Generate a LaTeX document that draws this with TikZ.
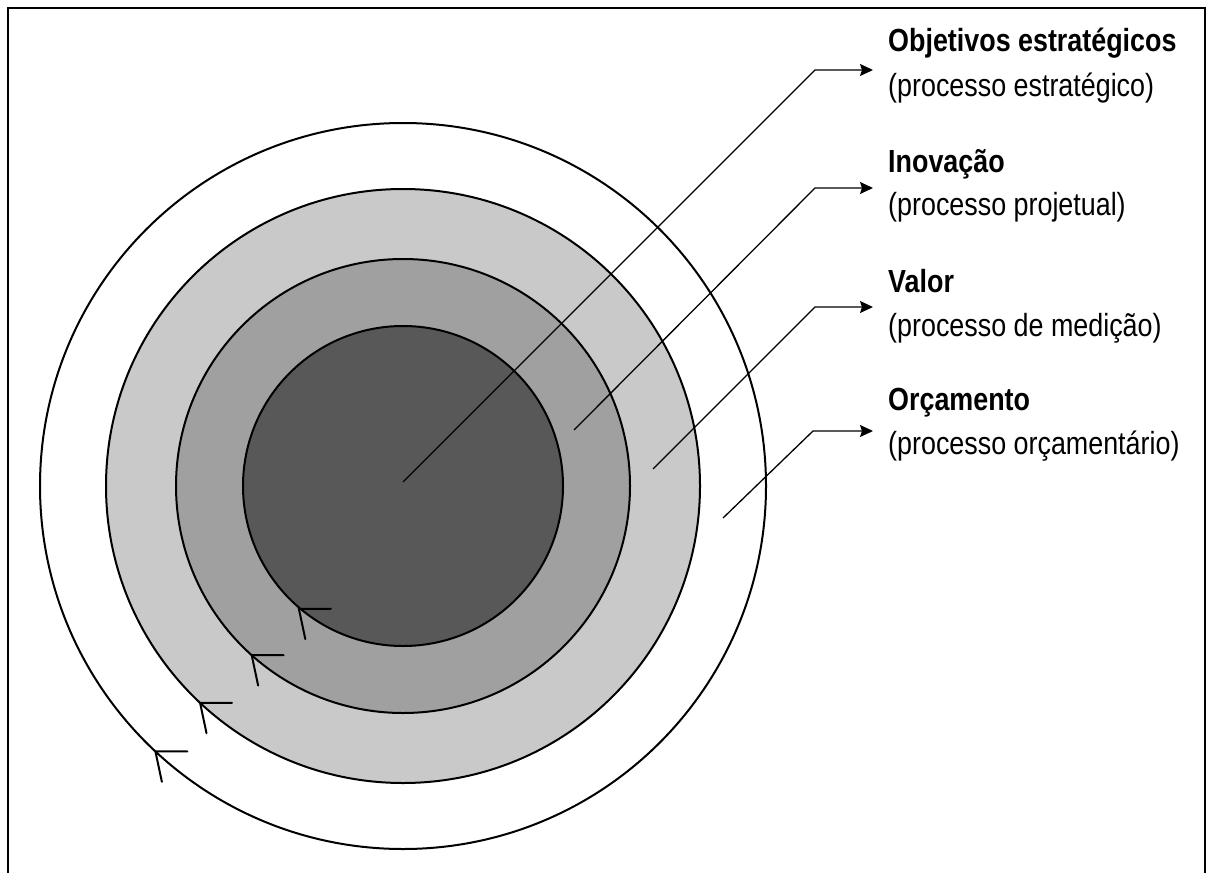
\documentclass[tikz,border=0pt]{standalone}
\usepackage{fontspec}
\setmainfont{Liberation Sans}
\newfontfamily\labfont[FakeStretch=0.84]{Liberation Sans}
\usetikzlibrary{arrows.meta,calc}
\definecolor{ringA}{RGB}{88,88,88}
\definecolor{ringB}{RGB}{160,160,160}
\definecolor{ringC}{RGB}{201,201,201}
\begin{document}
\begin{tikzpicture}[x=1pt,y=-1pt,
  ring/.style={draw=black,line width=2pt},
  leader/.style={line width=1.3pt,-{Stealth[length=13pt,width=12pt,inset=2pt]}},
  barb/.style={line width=2pt,line cap=round,line join=miter},
  boldlab/.style={anchor=base west,inner sep=0pt,font=\labfont\fontsize{32}{38}\selectfont\bfseries},
  reglab/.style={anchor=base west,inner sep=0pt,font=\labfont\fontsize{32}{38}\selectfont}]
\useasboundingbox (0,0) rectangle (1206,872);
\clip (0,0) rectangle (1206,872);
\fill[white] (0,0) rectangle (1206,872);
\draw[line width=2pt] (8,8) rectangle (1205,900);
\coordinate (c) at (403,486);
% rings
\draw[ring,fill=white] (c) circle (363pt);
\draw[ring,fill=ringC] (c) circle (297pt);
\draw[ring,fill=ringB] (c) circle (227pt);
\draw[ring,fill=ringA] (c) circle (160pt);
% direction barbs on the rings
\coordinate (k1) at ($(c)+(229.7:161pt)$);
\coordinate (k2) at ($(c)+(228.2:227pt)$);
\coordinate (k3) at ($(c)+(226.9:297pt)$);
\coordinate (k4) at ($(c)+(227:363pt)$);
\foreach \k in {k1,k2,k3,k4}{
  \draw[barb] (\k) ++(0:32pt) -- (\k) -- ++(282:31pt);
}
% labels
\node[boldlab] (h1) at (888,52) {Objetivos estratégicos};
\node[reglab]  (p1) at (888,96) {(processo estratégico)};
\node[boldlab] (h2) at (888,172) {Inovação};
\node[reglab]  (p2) at (888,215) {(processo projetual)};
\node[boldlab] (h3) at (888,292) {Valor};
\node[reglab]  (p3) at (888,336) {(processo de medição)};
\node[boldlab] (h4) at (888,410) {Orçamento};
\node[reglab]  (p4) at (888,454) {(processo orçamentário)};
% leaders
\coordinate (s1) at (403,482);
\coordinate (b1) at (815,70);
\coordinate (e1) at (873,70);
\coordinate (s2) at (574,430);
\coordinate (b2) at (815,188);
\coordinate (e2) at (873,188);
\coordinate (s3) at (653,469);
\coordinate (b3) at (815,307);
\coordinate (e3) at (873,307);
\coordinate (s4) at (723,518);
\coordinate (b4) at (813,431);
\coordinate (e4) at (873,431);
\draw[leader] (s1) -- (b1) -- (e1);
\draw[leader] (s2) -- (b2) -- (e2);
\draw[leader] (s3) -- (b3) -- (e3);
\draw[leader] (s4) -- (b4) -- (e4);
\end{tikzpicture}
\end{document}
